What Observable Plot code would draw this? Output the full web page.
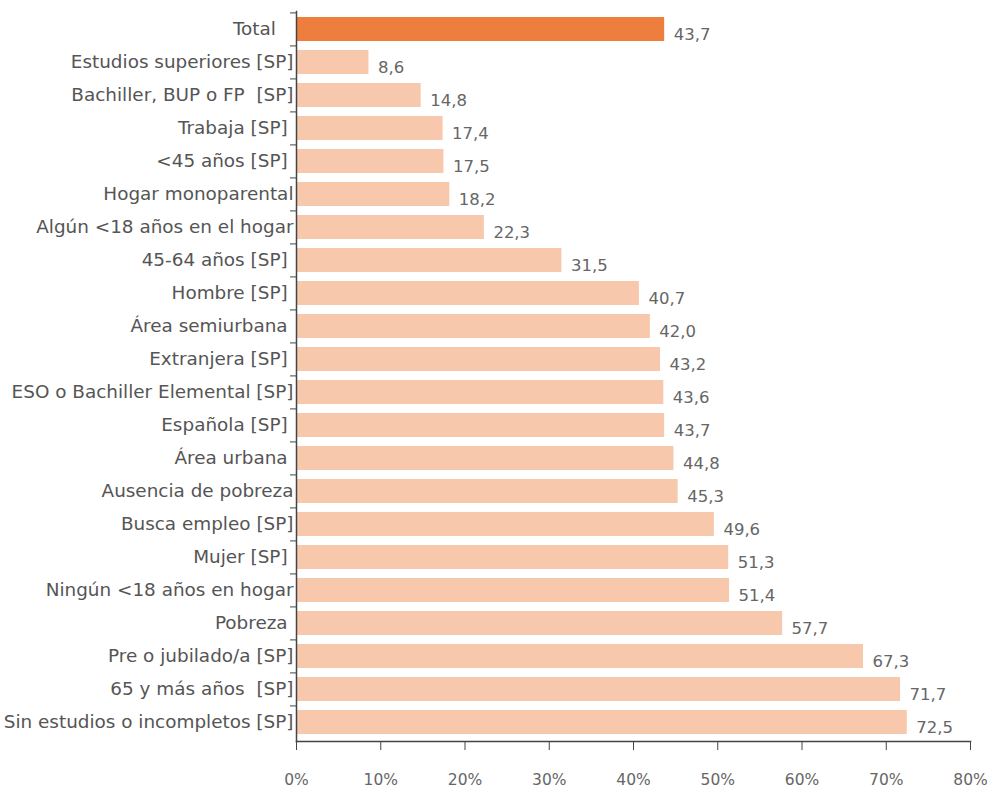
<!DOCTYPE html>
<html><head><meta charset="utf-8">
<script src="https://cdn.jsdelivr.net/npm/d3@7"></script>
<script src="https://cdn.jsdelivr.net/npm/@observablehq/plot@0.6"></script>
<style>body{margin:0;background:#fff}</style>
</head><body><div id="chart"></div>
<script>
const categories = [
  "Total\u00a0\u00a0\u00a0",
  "Estudios superiores [SP]",
  "Bachiller, BUP o FP\u00a0 [SP]",
  "Trabaja [SP]\u00a0",
  "<45 años [SP]\u00a0",
  "Hogar monoparental",
  "Algún <18 años en el hogar",
  "45-64 años [SP]\u00a0",
  "Hombre [SP]\u00a0",
  "Área semiurbana\u00a0",
  "Extranjera [SP]\u00a0",
  "ESO o Bachiller Elemental [SP]",
  "Española [SP]\u00a0",
  "Área urbana\u00a0",
  "Ausencia de pobreza",
  "Busca empleo [SP]",
  "Mujer [SP]\u00a0",
  "Ningún <18 años en hogar",
  "Pobreza\u00a0",
  "Pre o jubilado/a [SP]",
  "65 y más años\u00a0 [SP]",
  "Sin estudios o incompletos [SP]"
];
const values = [43.7, 8.6, 14.8, 17.4, 17.5, 18.2, 22.3, 31.5, 40.7, 42.0, 43.2, 43.6, 43.7, 44.8, 45.3, 49.6, 51.3, 51.4, 57.7, 67.3, 71.7, 72.5];
const xTicks = [0, 10, 20, 30, 40, 50, 60, 70, 80];

const data = categories.map((c, i) => ({category: c, value: values[i], total: i === 0}));
const W = 1004, H = 787, mT = 11, mB = 46, mL = 296, mR = 34;
const step = (H - mT - mB) / categories.length;
const fmt = v => v.toFixed(1).replace(".", ",");

const chart = Plot.plot({
  width: W, height: H,
  marginTop: mT, marginBottom: mB, marginLeft: mL, marginRight: mR,
  style: {fontFamily: "'DejaVu Sans', sans-serif", color: "#555", background: "#fff", overflow: "visible"},
  x: {domain: [0, 80]},
  y: {domain: categories, paddingInner: 0.27, paddingOuter: 0.135},
  marks: [
    Plot.barX(data, {y: "category", x: "value", fill: d => d.total ? "#EE7E3D" : "#F7C8AC"}),
    Plot.text(data, {y: "category", x: "value", text: d => fmt(d.value), textAnchor: "start", dx: 9, dy: 5, fontSize: 16.5, fill: "#666"}),
    Plot.axisY({tickSize: 0, tickPadding: 3, fontSize: 18.4, fill: "#555", label: null}),
    Plot.axisY({tickSize: 6, tickFormat: () => "", dy: -step / 2, stroke: "#444", label: null}),
    Plot.frame({anchor: "left", stroke: "#444", strokeWidth: 1.5}),
    Plot.frame({anchor: "bottom", stroke: "#444", strokeWidth: 1.5}),
    Plot.axisX({ticks: xTicks, tickFormat: d => d + "%", tickSize: 9, tickPadding: 23, fontSize: 15.5, fill: "#666", stroke: "#444", label: null})
  ]
});
document.getElementById("chart").appendChild(chart);
</script>
</body></html>
